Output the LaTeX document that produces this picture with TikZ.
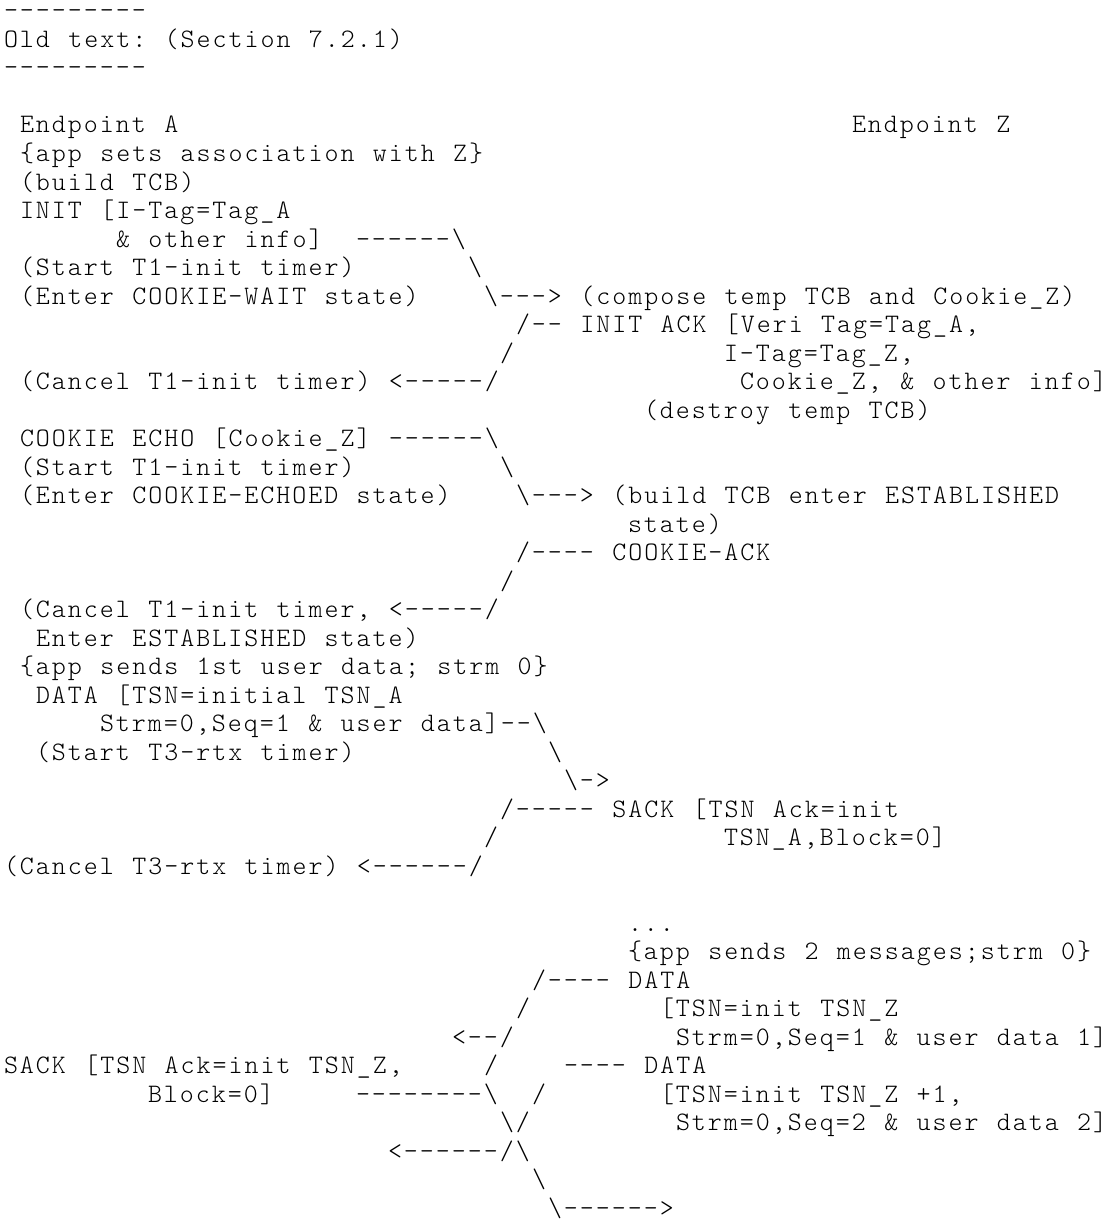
\documentclass[tikz,border=0pt]{standalone}
\usepackage{fontspec}
\usepackage{tikz}
\newfontfamily\asciifam{lmmonolt10-regular}[Extension=.otf, LetterSpace=7.5, WordSpace=1.142857]
\newcommand\asciifont{\fontsize{13.333pt}{14.25pt}\selectfont\asciifam}
\newcommand\bs{\textbackslash}
\frenchspacing
\tikzset{
  ascii/.style={anchor=base west, inner sep=0pt, outer sep=0pt, font=\asciifont},
}
\begin{document}
\begin{tikzpicture}[x=8pt, y=-14.25pt]
\useasboundingbox (-0.25,-0.6667) rectangle (69.25,42.3158);
% header
\node[ascii] (ruletop) at (0,0) {---------};
\node[ascii] (oldtext) at (0,1) {Old text: (Section 7.2.1)};
\node[ascii] (rulebot) at (0,2) {---------};
% INIT / INIT ACK
\node[ascii] (epA) at (1,4) {Endpoint A};
\node[ascii] (epZ) at (53,4) {Endpoint Z};
\node[ascii] (appset) at (1,5) {\{app sets association with Z\}};
\node[ascii] (buildA) at (1,6) {(build TCB)};
\node[ascii] (init) at (1,7) {INIT [I-Tag=Tag\_A};
\node[ascii] (initinfo) at (7,8) {\& other info]};
\node[ascii] (initarr1) at (22,8) {------\bs};
\node[ascii] (startT1a) at (1,9) {(Start T1-init timer)};
\node[ascii] (initarr2) at (29,9) {\bs};
\node[ascii] (cwait) at (1,10) {(Enter COOKIE-WAIT state)};
\node[ascii] (compose) at (30,10) {\bs---> (compose temp TCB and Cookie\_Z)};
\node[ascii] (initack) at (32,11) {/-- INIT ACK [Veri Tag=Tag\_A,};
\node[ascii] (ackarr) at (31,12) {/};
\node[ascii] (itag) at (45,12) {I-Tag=Tag\_Z,};
\node[ascii] (cancel1) at (1,13) {(Cancel T1-init timer) <-----/};
\node[ascii] (cookieZ) at (46,13) {Cookie\_Z, \& other info]};
\node[ascii] (destroy) at (40,14) {(destroy temp TCB)};
% COOKIE ECHO / COOKIE-ACK
\node[ascii] (echo) at (1,15) {COOKIE ECHO [Cookie\_Z] ------\bs};
\node[ascii] (startT1b) at (1,16) {(Start T1-init timer)};
\node[ascii] (echoarr) at (31,16) {\bs};
\node[ascii] (cechoed) at (1,17) {(Enter COOKIE-ECHOED state)};
\node[ascii] (buildZ) at (32,17) {\bs---> (build TCB enter ESTABLISHED};
\node[ascii] (stateZ) at (39,18) {state)};
\node[ascii] (cack) at (32,19) {/---- COOKIE-ACK};
\node[ascii] (cackarr) at (31,20) {/};
\node[ascii] (cancel2) at (1,21) {(Cancel T1-init timer, <-----/};
\node[ascii] (estab) at (2,22) {Enter ESTABLISHED state)};
% first DATA / SACK
\node[ascii] (app1) at (1,23) {\{app sends 1st user data; strm 0\}};
\node[ascii] (dataA) at (2,24) {DATA [TSN=initial TSN\_A};
\node[ascii] (strmA) at (6,25) {Strm=0,Seq=1 \& user data]--\bs};
\node[ascii] (startT3) at (2,26) {(Start T3-rtx timer)};
\node[ascii] (dataarr1) at (34,26) {\bs};
\node[ascii] (dataarr2) at (35,27) {\bs->};
\node[ascii] (sackZ) at (31,28) {/----- SACK [TSN Ack=init};
\node[ascii] (sackarr) at (30,29) {/};
\node[ascii] (tsnA) at (45,29) {TSN\_A,Block=0]};
\node[ascii] (cancel3) at (0,30) {(Cancel T3-rtx timer) <------/};
% two DATA chunks from Z
\node[ascii] (dots) at (39,32) {...};
\node[ascii] (app2) at (39,33) {\{app sends 2 messages;strm 0\}};
\node[ascii] (dataZ1) at (33,34) {/---- DATA};
\node[ascii] (d1arr1) at (32,35) {/};
\node[ascii] (tsnZ1) at (41,35) {[TSN=init TSN\_Z};
\node[ascii] (d1arr2) at (28,36) {<--/};
\node[ascii] (strmZ1) at (42,36) {Strm=0,Seq=1 \& user data 1]};
\node[ascii] (sackA) at (0,37) {SACK [TSN Ack=init TSN\_Z,};
\node[ascii] (cross1) at (30,37) {/};
\node[ascii] (dataZ2) at (35,37) {---- DATA};
\node[ascii] (block) at (9,38) {Block=0]};
\node[ascii] (sackarrA) at (22,38) {--------\bs};
\node[ascii] (cross2) at (33,38) {/};
\node[ascii] (tsnZ2) at (41,38) {[TSN=init TSN\_Z +1,};
\node[ascii] (cross3) at (31,39) {\bs/};
\node[ascii] (strmZ2) at (42,39) {Strm=0,Seq=2 \& user data 2]};
\node[ascii] (cross4) at (24,40) {<------/\bs};
\node[ascii] (cross5) at (33,41) {\bs};
\node[ascii] (cross6) at (34,42) {\bs------>};
\end{tikzpicture}
\end{document}
